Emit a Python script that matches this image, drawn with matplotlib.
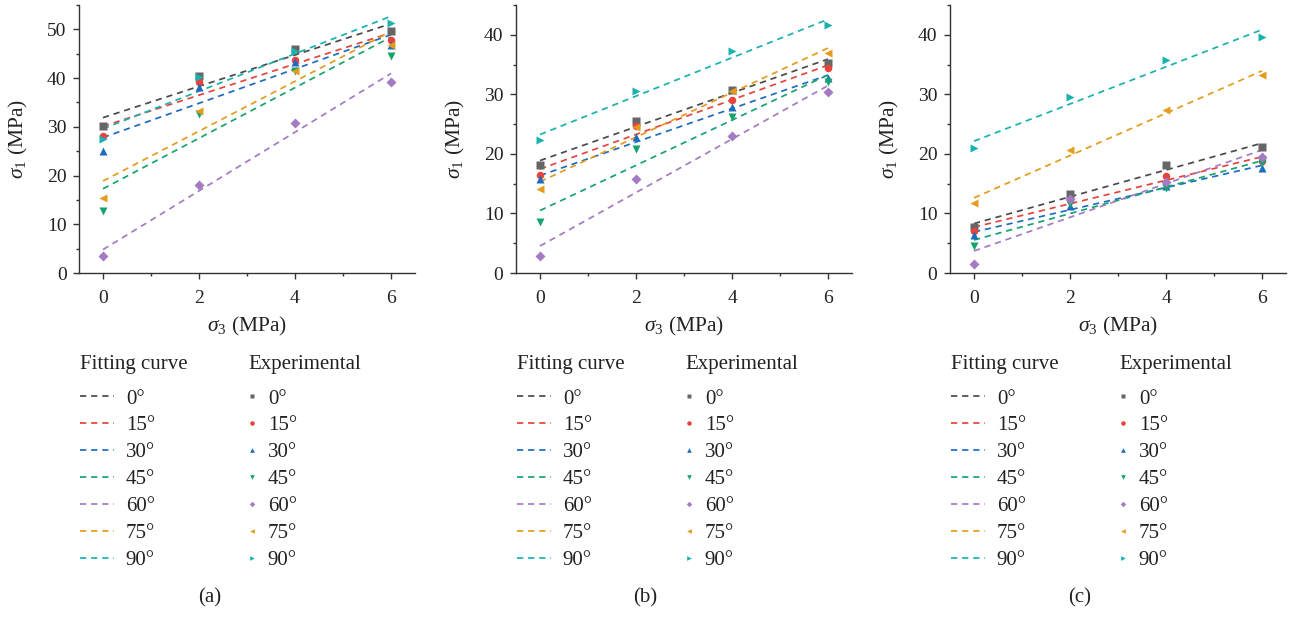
import numpy as np
import matplotlib
matplotlib.use("Agg")
import matplotlib.pyplot as plt
from matplotlib.lines import Line2D
from matplotlib.ticker import MultipleLocator

plt.rcParams['font.family'] = ['Liberation Serif', 'DejaVu Serif']
plt.rcParams['mathtext.fontset'] = 'custom'
plt.rcParams['mathtext.rm'] = 'Liberation Serif'
plt.rcParams['mathtext.it'] = 'Liberation Serif:italic'

# ---------------- data ----------------
sigma3 = [0, 2, 4, 6]
angles = ['0°', '15°', '30°', '45°', '60°', '75°', '90°']

panel_a = {
    '0°':  [30.1, 40.4, 45.9, 49.7],
    '15°': [28.1, 39.1, 43.7, 47.9],
    '30°': [25.1, 38.1, 43.4, 46.8],
    '45°': [12.8, 32.7, 41.4, 44.5],
    '60°': [3.4, 18.0, 30.8, 39.3],
    '75°': [15.4, 33.3, 41.4, 46.8],
    '90°': [27.5, 40.2, 45.5, 51.4],
}
panel_b = {
    '0°':  [18.1, 25.5, 30.7, 35.3],
    '15°': [16.5, 24.7, 29.1, 34.4],
    '30°': [15.7, 22.9, 27.8, 32.8],
    '45°': [8.5, 20.8, 26.2, 32.0],
    '60°': [2.9, 15.7, 23.0, 30.4],
    '75°': [14.1, 24.5, 30.6, 37.0],
    '90°': [22.3, 30.6, 37.2, 41.6],
}
panel_c = {
    '0°':  [7.7, 13.3, 18.1, 21.1],
    '15°': [7.0, 12.3, 16.3, 18.8],
    '30°': [6.4, 11.2, 14.6, 17.7],
    '45°': [4.5, 11.6, 14.3, 18.4],
    '60°': [1.5, 12.5, 15.3, 19.4],
    '75°': [11.8, 20.7, 27.3, 33.3],
    '90°': [21.0, 29.5, 35.8, 39.7],
}
panels = [panel_a, panel_b, panel_c]
captions = ['(a)', '(b)', '(c)']
ylims = [55, 45, 45]

marker_colors = ['#666666', '#e8433c', '#1f6cbf', '#16a36e', '#a47bc2', '#e39c1e', '#18b2b0']
line_colors = ['#4a4a4a', '#e8433c', '#1f6cbf', '#16a36e', '#a47bc2', '#e39c1e', '#18b2b0']
markers = ['s', 'o', '^', 'v', 'D', '<', '>']
msizes = [5.2, 5.4, 5.6, 5.6, 4.6, 5.6, 5.6]

W, H = 1290, 618
fig = plt.figure(figsize=(W / 100, H / 100), dpi=100)

ax_lefts = [79, 516, 950]
caption_x = [210, 645, 1080]
ax_w = 336
ax_top, ax_bot = 5, 273
dash = (0, (3.6, 2.8))
txt = '#222222'

for i, data in enumerate(panels):
    ax = fig.add_axes([ax_lefts[i] / W, 1 - ax_bot / H, ax_w / W, (ax_bot - ax_top) / H])
    x = np.array(sigma3, dtype=float)
    xf = np.array([x.min(), x.max()])
    for k, ang in enumerate(angles):
        y = np.array(data[ang])
        p = np.polyfit(x, y, 1)
        ax.plot(xf, np.polyval(p, xf), linestyle=dash, color=line_colors[k], lw=1.25, zorder=2)
    for k, ang in enumerate(angles):
        ax.plot(x, data[ang], linestyle='none', marker=markers[k], ms=msizes[k],
                color=marker_colors[k], mec='none', zorder=3)
    ax.set_xlim(-0.5, 6.5)
    ax.set_ylim(0, ylims[i])
    ax.xaxis.set_major_locator(MultipleLocator(2))
    ax.xaxis.set_minor_locator(MultipleLocator(1))
    ax.yaxis.set_major_locator(MultipleLocator(10))
    ax.yaxis.set_minor_locator(MultipleLocator(5))
    for s in ['top', 'right']:
        ax.spines[s].set_visible(False)
    for s in ['left', 'bottom']:
        ax.spines[s].set_color('#333333')
        ax.spines[s].set_linewidth(1.0)
    ax.tick_params(which='major', length=4, width=1.0, color='#333333', labelsize=14,
                   labelcolor=txt)
    ax.tick_params(which='minor', length=2.5, width=1.0, color='#333333')
    ax.tick_params(axis='x', pad=8)
    ax.tick_params(axis='y', pad=5)
    ax.set_xlabel(r'$\sigma_3$ (MPa)', fontsize=15.5, color=txt, labelpad=6)
    ax.set_ylabel(r'$\sigma_1$ (MPa)', fontsize=15.5, color=txt, labelpad=12)

    # legends
    line_handles = [Line2D([], [], linestyle=dash, color=line_colors[k], lw=1.25) for k in range(7)]
    mk_handles = [Line2D([], [], linestyle='none', marker=markers[k], ms=msizes[k] * 0.6,
                         color=marker_colors[k], mec='none') for k in range(7)]
    x0 = (ax_lefts[i] + 1) / W
    x1 = (ax_lefts[i] + 169) / W
    fig.text(x0, 1 - 364 / H, 'Fitting curve', ha='left', va='center', fontsize=15, color=txt)
    fig.text(x1, 1 - 364 / H, 'Experimental', ha='left', va='center', fontsize=15, color=txt)
    leg1 = fig.legend(line_handles, angles, loc='upper left',
                      bbox_to_anchor=(x0, 1 - 389 / H), frameon=False, fontsize=15,
                      handlelength=1.65, handletextpad=0.55, labelspacing=0.35,
                      borderpad=0, borderaxespad=0)
    leg2 = fig.legend(mk_handles, angles, loc='upper left',
                      bbox_to_anchor=(x1, 1 - 389 / H), frameon=False, fontsize=15,
                      handlelength=0.35, handletextpad=0.6, labelspacing=0.35,
                      borderpad=0, borderaxespad=0)
    for leg in (leg1, leg2):
        for t in leg.get_texts():
            t.set_color(txt)

    fig.text(caption_x[i] / W, 1 - 598 / H, captions[i], ha='center', va='center',
             fontsize=15, color=txt)

fig.savefig('out.png', dpi=100)
